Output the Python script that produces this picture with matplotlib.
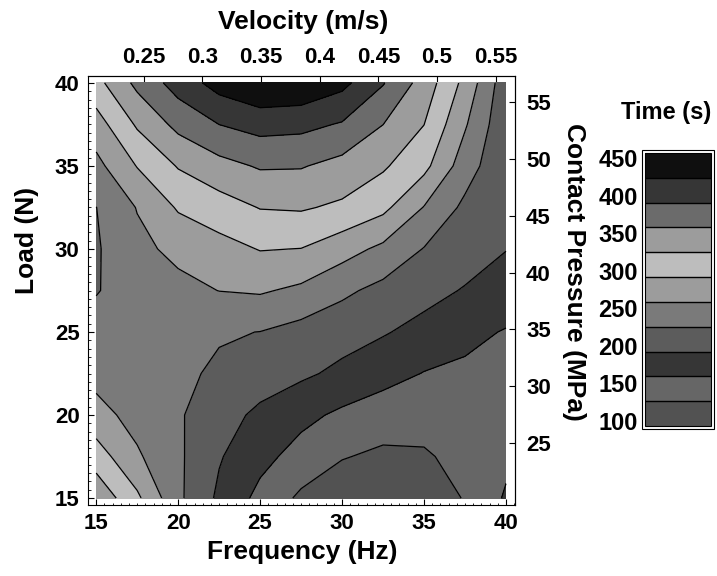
import numpy as np
import matplotlib
matplotlib.use("Agg")
import matplotlib.pyplot as plt
from matplotlib.ticker import MultipleLocator
from matplotlib.patches import Rectangle

plt.rcParams["font.family"] = ["Liberation Sans", "DejaVu Sans"]
plt.rcParams["font.weight"] = "bold"

# ---- data ----
frequency_hz = [15, 17.5, 20, 22.5, 25, 27.5, 30, 32.5, 35, 37.5, 40]
load_n = [15, 17.5, 20, 22.5, 25, 27.5, 30, 32.5, 35, 37.5, 40]
# rows: load (15 -> 40), columns: frequency (15 -> 40); time in seconds
time_s = [
    [350, 298, 232, 186, 150, 120, 105,  96, 108, 128, 163],
    [308, 263, 231, 195, 169, 147, 128, 120, 122, 137, 152],
    [270, 247, 229, 206, 185, 168, 153, 142, 140, 144, 150],
    [248, 240, 231, 221, 209, 198, 185, 171, 158, 153, 152],
    [235, 232, 230, 228, 225, 214, 205, 195, 182, 168, 157],
    [224, 237, 249, 259, 262, 252, 232, 216, 203, 190, 180],
    [222, 250, 267, 280, 293, 291, 272, 251, 224, 208, 193],
    [225, 260, 295, 310, 326, 328, 319, 300, 257, 218, 196],
    [249, 293, 327, 347, 361, 360, 347, 329, 301, 241, 198],
    [277, 329, 367, 391, 403, 400, 388, 358, 325, 262, 200],
    [314, 366, 405, 437, 455, 452, 433, 393, 344, 282, 205],
]
contour_levels = [93.0, 126.1, 159.2, 192.3, 225.4, 258.5, 291.6,
                  324.7, 357.8, 390.9, 424.0, 457.0]
band_grays = ["0.32", "0.40", "0.21", "0.36", "0.48", "0.61",
              "0.74", "0.61", "0.42", "0.21", "0.06"]
x_ticks = [15, 20, 25, 30, 35, 40]
y_ticks = [15, 20, 25, 30, 35, 40]
velocity_ticks = [0.25, 0.3, 0.35, 0.4, 0.45, 0.5, 0.55]
velocity_labels = ["0.25", "0.3", "0.35", "0.4", "0.45", "0.5", "0.55"]
pressure_ticks = [25, 30, 35, 40, 45, 50, 55]
time_ticks = [100, 150, 200, 250, 300, 350, 400, 450]

# axis conversions (secondary scales)
vel_per_hz = 0.01397
press_slope = 1.459
press_offset = -1.7

W, H = 717, 576
fig = plt.figure(figsize=(W / 100, H / 100), dpi=100)


def fx(px):
    return px / W


def fy(py):
    return 1 - py / H


ax = fig.add_axes([fx(88), fy(505), fx(515) - fx(88), fy(76) - fy(505)])

F, L = np.meshgrid(frequency_hz, load_n)
Z = np.array(time_s, dtype=float)
cf = ax.contourf(F, L, Z, levels=contour_levels, colors=band_grays)
cs = ax.contour(F, L, Z, levels=contour_levels[1:-1], colors="black",
                linewidths=0.9)

ax.set_xlim(14.5, 40.55)
ax.set_ylim(14.58, 40.42)
ax.set_xticks(x_ticks)
ax.set_yticks(y_ticks)
ax.xaxis.set_minor_locator(MultipleLocator(0.5))
ax.yaxis.set_minor_locator(MultipleLocator(0.5))
ax.tick_params(which="major", direction="in", length=4, width=0.8,
               labelsize=16, pad=6, top=False, right=False)
ax.tick_params(which="minor", direction="in", length=1.8, width=0.6,
               top=False, right=False)
for s in ax.spines.values():
    s.set_linewidth(0.8)

# top: velocity
top = ax.secondary_xaxis("top", functions=(lambda f: f * vel_per_hz,
                                           lambda v: v / vel_per_hz))
top.set_xticks(velocity_ticks)
top.set_xticklabels(velocity_labels)
top.tick_params(direction="in", length=4, width=0.8, labelsize=16, pad=6)

# right: contact pressure
right = ax.secondary_yaxis("right", functions=(
    lambda l: l * press_slope + press_offset,
    lambda p: (p - press_offset) / press_slope))
right.set_yticks(pressure_ticks)
right.tick_params(direction="in", length=4, width=0.8, labelsize=16, pad=8)

# axis titles
fig.text(fx(302), fy(552), "Frequency (Hz)", ha="center", va="center",
         fontsize=19, fontweight="bold")
fig.text(fx(303), fy(22), "Velocity (m/s)", ha="center", va="center",
         fontsize=19, fontweight="bold")
fig.text(fx(27), fy(240), "Load (N)", ha="center", va="center",
         fontsize=19, fontweight="bold", rotation=90)
fig.text(fx(574), fy(272), "Contact Pressure (MPa)", ha="center",
         va="center", fontsize=19, fontweight="bold", rotation=-90)

# colorbar
cax = fig.add_axes([fx(645), fy(426), fx(711) - fx(645), fy(153) - fy(426)])
cb = fig.colorbar(cf, cax=cax, drawedges=True)
cb.dividers.set_color("black")
cb.dividers.set_linewidth(1.0)
cb.set_ticks(time_ticks)
cb.ax.yaxis.set_ticks_position("left")
cb.ax.tick_params(length=0, labelsize=17, pad=5)
cb.outline.set_linewidth(0.8)
fig.add_artist(Rectangle((fx(642), fy(429)), fx(714) - fx(642),
                         fy(150) - fy(429), transform=fig.transFigure,
                         fill=False, edgecolor="black", linewidth=0.8))
fig.text(fx(666), fy(112), "Time (s)", ha="center", va="center",
         fontsize=17, fontweight="bold")

fig.savefig("out.png", dpi=100)
